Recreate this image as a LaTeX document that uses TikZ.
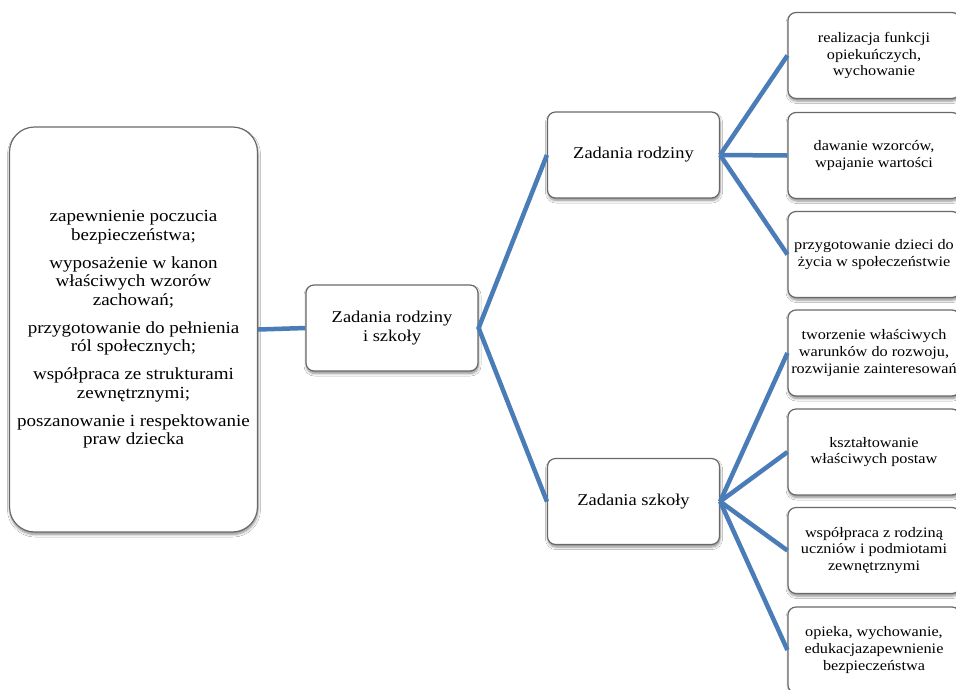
\documentclass[tikz,border=0pt]{standalone}
\usepackage{fontspec}
\setmainfont{Liberation Serif}[FakeStretch=1.12]
\usetikzlibrary{shadows.blur}
\definecolor{linkblue}{RGB}{74,124,184}
\definecolor{boxgray}{RGB}{105,105,105}
\tikzset{
  box/.style={draw=boxgray, line width=1.2pt, fill=white, rounded corners=8pt,
    minimum width=172pt, minimum height=86pt, inner sep=0pt, align=center,
    blur shadow={shadow xshift=0.5pt, shadow yshift=-2.5pt, shadow blur steps=6, shadow blur radius=2.5pt, shadow opacity=45}},
  bigbox/.style={box, rounded corners=25pt, minimum width=248pt, minimum height=405pt},
  midfont/.style={font=\fontsize{16.5}{19}\selectfont},
  smallfont/.style={font=\fontsize{14.5}{16.8}\selectfont},
  bigfont/.style={font=\fontsize{17}{18.5}\selectfont},
  link/.style={draw=linkblue, line width=4.5pt, line join=miter}
}
\begin{document}
\begin{tikzpicture}[x=1pt,y=-1pt]
\useasboundingbox (0,0) rectangle (956,689);
\clip (0,0) rectangle (956,689);
\fill[white] (0,0) rectangle (956,689);

\node[bigbox, bigfont] (L) at (133.5,329.5) {zapewnienie poczucia\\ bezpieczeństwa;\\[9.5pt]
wyposażenie w kanon\\ właściwych wzorów\\ zachowań;\\[9.5pt]
przygotowanie do pełnienia\\ ról społecznych;\\[9.5pt]
współpraca ze strukturami\\ zewnętrznymi;\\[9.5pt]
poszanowanie i respektowanie\\ praw dziecka};

\node[box, midfont] (C) at (392,328) {Zadania rodziny\\ i szkoły};
\node[box, midfont] (R) at (633.5,155) {Zadania rodziny};
\node[box, midfont] (S) at (633.5,501.5) {Zadania szkoły};

\node[box, smallfont] (r1) at (874,55.5) {realizacja funkcji\\ opiekuńczych,\\ wychowanie};
\node[box, smallfont] (r2) at (874,155.5) {dawanie wzorców,\\ wpajanie wartości};
\node[box, smallfont] (r3) at (874,254.5) {przygotowanie dzieci do\\ życia w społeczeństwie};
\node[box, smallfont] (s1) at (874,353) {tworzenie właściwych\\ warunków do rozwoju,\\ rozwijanie zainteresowań};
\node[box, smallfont] (s2) at (874,452) {kształtowanie\\ właściwych postaw};
\node[box, smallfont] (s3) at (874,550.5) {współpraca z rodziną\\ uczniów i podmiotami\\ zewnętrznymi};
\node[box, smallfont] (s4) at (874,650) {opieka, wychowanie,\\ edukacjazapewnienie\\ bezpieczeństwa};

\draw[link] (L.east) -- (C.west);
\draw[link] (R.west) -- (C.east) -- (S.west);
\foreach \t in {r1,r2,r3} \draw[link] (R.east) -- (\t.west);
\foreach \t in {s1,s2,s3,s4} \draw[link] (S.east) -- (\t.west);
\end{tikzpicture}
\end{document}
